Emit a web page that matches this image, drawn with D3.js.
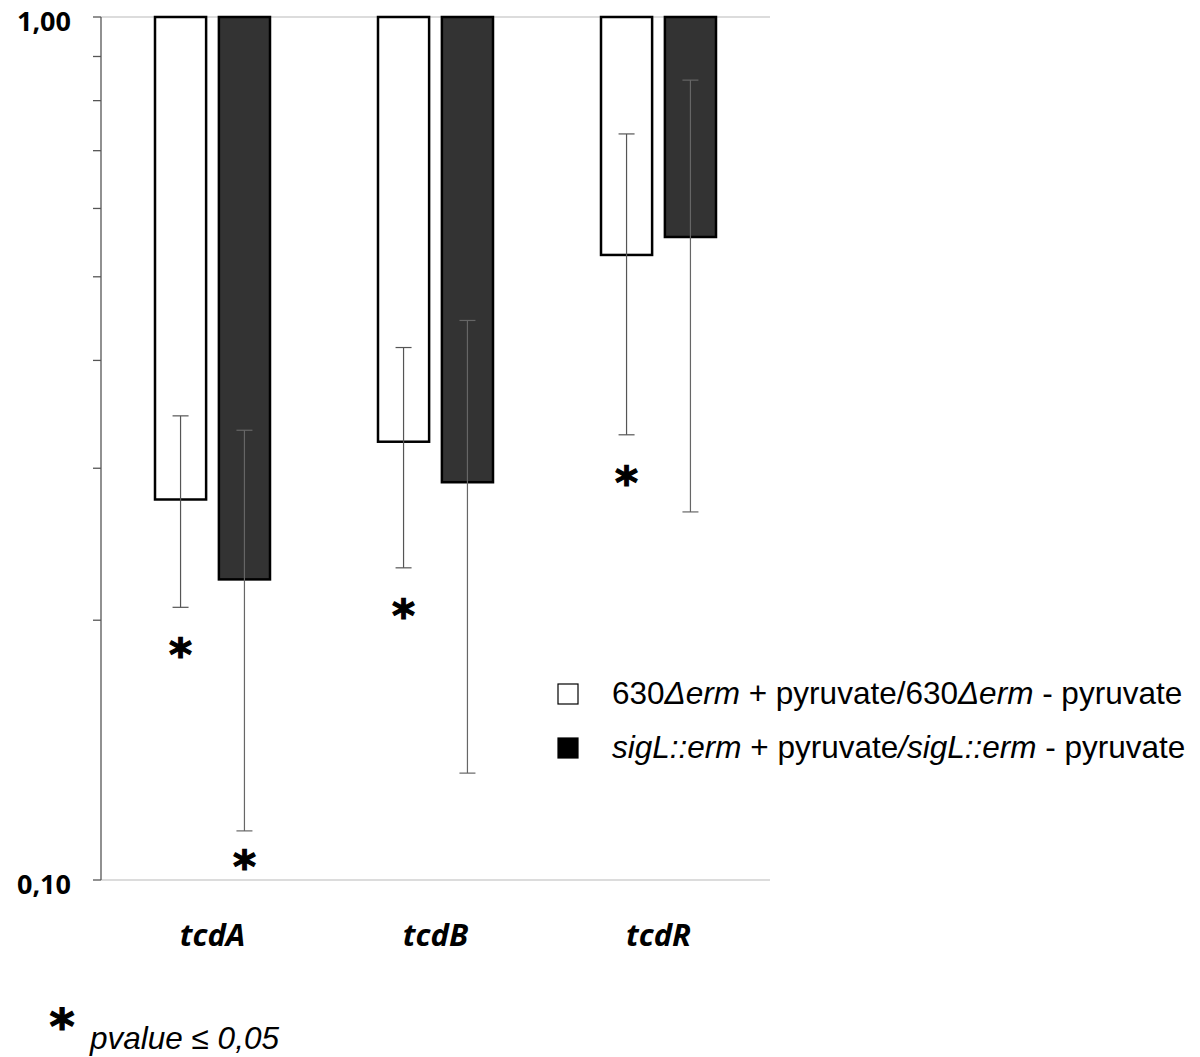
<!DOCTYPE html>
<html lang="en">
<head>
  <meta charset="UTF-8">
  <title>tcd expression ratio</title>
  <style>
    body { margin: 0; background: #fff; }
  </style>
</head>
<body>
  <svg id="svg" width="1200" height="1057"></svg>

  <script src="https://d3js.org/d3.v7.min.js"></script>
  <script>
    // data
    const genes = ['tcdA', 'tcdB', 'tcdR']
    const series = ['wt', 'sigL']
    const wtValues = [0.276, 0.322, 0.530]
    const wtErrors = [0.069, 0.092, 0.202]
    const sigLValues = [0.223, 0.289, 0.556]
    const sigLErrors = [0.109, 0.156, 0.289]
    const wtStars = [true, true, true]
    const sigLStars = [true, false, false]
    const minorTicks = [0.2, 0.3, 0.4, 0.5, 0.6, 0.7, 0.8, 0.9]
    const majorTicks = [0.1, 1]

    const rows = []
    genes.forEach((g, i) => {
      rows.push({ gene: g, s: 'wt', v: wtValues[i], e: wtErrors[i], star: wtStars[i] })
      rows.push({ gene: g, s: 'sigL', v: sigLValues[i], e: sigLErrors[i], star: sigLStars[i] })
    })

    const plotLeft = 101, plotRight = 770, plotTop = 17, plotBottom = 880
    const svg = d3.select('#svg')

    const y = d3.scaleLog().domain([0.1, 1]).range([plotBottom, plotTop])
    const x = d3.scaleBand().domain(genes).range([plotLeft, plotRight]).paddingInner(0).paddingOuter(0)
    const xs = d3.scaleBand().domain(series).range([0, 115]).paddingInner(0.2)
    const offset = (x.bandwidth() - 115) / 2

    const fill = { wt: '#ffffff', sigL: '#333333' }

    // gridlines
    svg.selectAll('line.grid')
      .data(majorTicks)
      .enter()
      .append('line')
      .attr('x1', plotLeft).attr('x2', plotRight)
      .attr('y1', d => y(d)).attr('y2', d => y(d))
      .attr('stroke', '#d0d0d0')
      .attr('stroke-width', 1.3)

    // y axis
    svg.append('line')
      .attr('x1', plotLeft).attr('x2', plotLeft)
      .attr('y1', plotTop).attr('y2', plotBottom)
      .attr('stroke', '#555')
      .attr('stroke-width', 1.3)

    svg.selectAll('line.tick')
      .data(majorTicks.concat(minorTicks))
      .enter()
      .append('line')
      .attr('x1', plotLeft - 8).attr('x2', plotLeft)
      .attr('y1', d => y(d)).attr('y2', d => y(d))
      .attr('stroke', '#555')
      .attr('stroke-width', 1.3)

    svg.selectAll('text.ylab')
      .data(majorTicks)
      .enter()
      .append('text')
      .text(d => d.toFixed(2).replace('.', ','))
      .attr('x', 71)
      .attr('y', d => y(d) + 14)
      .attr('text-anchor', 'end')
      .style('font-family', 'Open Sans')
      .style('font-weight', 'bold')
      .style('font-size', '27px')

    // bars (hang from 1.00)
    const groups = svg.selectAll('g.bar')
      .data(rows)
      .enter()
      .append('g')
      .attr('transform', d => `translate(${x(d.gene) + offset + xs(d.s)},0)`)

    groups.append('rect')
      .attr('x', 0)
      .attr('y', y(1))
      .attr('width', xs.bandwidth())
      .attr('height', d => y(d.v) - y(1))
      .attr('fill', d => fill[d.s])
      .attr('stroke', '#000')
      .attr('stroke-width', 2.5)

    // error bars
    const cx = xs.bandwidth() / 2
    groups.append('line')
      .attr('x1', cx).attr('x2', cx)
      .attr('y1', d => y(d.v + d.e))
      .attr('y2', d => y(d.v - d.e))
      .attr('stroke', d => d.s === 'wt' ? '#555' : '#666')
      .attr('stroke-width', 1.2)

    groups.selectAll('line.cap')
      .data(d => [{ s: d.s, val: d.v + d.e }, { s: d.s, val: d.v - d.e }])
      .enter()
      .append('line')
      .attr('x1', cx - 8).attr('x2', cx + 8)
      .attr('y1', d => y(d.val)).attr('y2', d => y(d.val))
      .attr('stroke', d => d.s === 'wt' ? '#555' : '#666')
      .attr('stroke-width', 1.2)

    // significance stars
    groups.filter(d => d.star)
      .append('text')
      .text('*')
      .attr('x', cx)
      .attr('y', d => Math.min(y(d.v - d.e) + 43, plotBottom - 18) + 20)
      .attr('text-anchor', 'middle')
      .attr('stroke', '#000')
      .attr('stroke-width', 1.2)
      .style('font-family', 'DejaVu Sans')
      .style('font-weight', 'bold')
      .style('font-size', '44px')

    // category labels
    svg.selectAll('text.xlab')
      .data(genes)
      .enter()
      .append('text')
      .text(d => d)
      .attr('x', d => x(d) + x.bandwidth() / 2)
      .attr('y', 946)
      .attr('text-anchor', 'middle')
      .style('font-family', 'Open Sans')
      .style('font-weight', 'bold')
      .style('font-style', 'italic')
      .style('font-size', '31px')

    // legend
    const legend = svg.append('g').attr('transform', 'translate(557,683)')
    const legendRows = [
      [['630', 'n'], ['Δerm', 'i'], [' + pyruvate/630', 'n'], ['Δerm', 'i'], [' - pyruvate', 'n']],
      [['sigL::erm', 'i'], [' + pyruvate', 'n'], ['/sigL::erm', 'i'], [' - pyruvate', 'n']]
    ]
    const li = legend.selectAll('g')
      .data(series)
      .enter()
      .append('g')
      .attr('transform', (d, i) => `translate(0,${i * 54})`)

    li.append('rect')
      .attr('x', 1).attr('y', 1)
      .attr('width', 20).attr('height', 20)
      .attr('fill', d => d === 'wt' ? '#fff' : '#000')
      .attr('stroke', '#000')
      .attr('stroke-width', 1.2)

    li.append('text')
      .attr('x', 55)
      .attr('y', 21)
      .style('font-family', 'Liberation Sans')
      .style('font-size', '31.5px')
      .selectAll('tspan')
      .data((d, i) => legendRows[i])
      .enter()
      .append('tspan')
      .text(d => d[0])
      .style('font-style', d => d[1] === 'i' ? 'italic' : 'normal')

    // footnote
    svg.append('text')
      .text('*')
      .attr('x', 62)
      .attr('y', 1043)
      .attr('text-anchor', 'middle')
      .attr('stroke', '#000')
      .attr('stroke-width', 1.2)
      .style('font-family', 'DejaVu Sans')
      .style('font-weight', 'bold')
      .style('font-size', '48px')

    svg.append('text')
      .text('pvalue ≤ 0,05')
      .attr('x', 90)
      .attr('y', 1049)
      .style('font-family', 'Liberation Sans')
      .style('font-style', 'italic')
      .style('font-size', '31.5px')
  </script>
</body>
</html>
